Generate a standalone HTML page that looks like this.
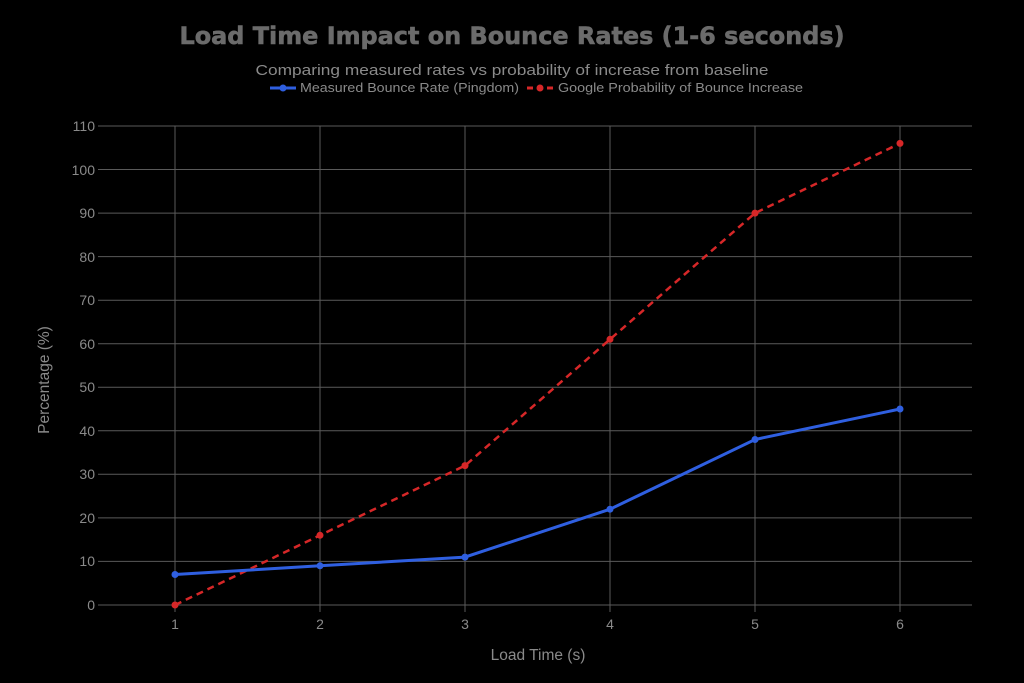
<!DOCTYPE html>
<html><head><meta charset="utf-8"><style>
html,body{margin:0;padding:0;background:#000;}
svg{display:block;font-family:"Liberation Sans","DejaVu Sans",sans-serif;}
</style></head><body>
<svg width="1024" height="683" viewBox="0 0 1024 683" xmlns="http://www.w3.org/2000/svg">
<rect width="1024" height="683" fill="#000"/>
<text x="512" y="44" text-anchor="middle" font-family="'DejaVu Sans',sans-serif" font-weight="bold" font-size="24" fill="#6b6b6b" stroke="#6b6b6b" stroke-width="0.6" textLength="665" lengthAdjust="spacingAndGlyphs">Load Time Impact on Bounce Rates (1-6 seconds)</text>
<text x="512" y="75" text-anchor="middle" font-size="15" fill="#8a8a8a" textLength="513" lengthAdjust="spacingAndGlyphs">Comparing measured rates vs probability of increase from baseline</text>
<g font-size="13" fill="#8a8a8a">
<line x1="270" y1="88" x2="296" y2="88" stroke="#2f5fe0" stroke-width="3"/><circle cx="283" cy="88" r="3.5" fill="#2f5fe0"/>
<text x="300" y="92" textLength="219" lengthAdjust="spacingAndGlyphs">Measured Bounce Rate (Pingdom)</text>
<line x1="527" y1="88" x2="553" y2="88" stroke="#d62728" stroke-width="3" stroke-dasharray="6,4"/><circle cx="540" cy="88" r="3.5" fill="#d62728"/>
<text x="558" y="92" textLength="245" lengthAdjust="spacingAndGlyphs">Google Probability of Bounce Increase</text>
</g>
<g stroke="#5a5a5a" stroke-width="1">
<line x1="98" y1="605" x2="972" y2="605"/><line x1="98" y1="561.4" x2="972" y2="561.4"/><line x1="98" y1="517.9" x2="972" y2="517.9"/><line x1="98" y1="474.3" x2="972" y2="474.3"/><line x1="98" y1="430.8" x2="972" y2="430.8"/><line x1="98" y1="387.3" x2="972" y2="387.3"/><line x1="98" y1="343.7" x2="972" y2="343.7"/><line x1="98" y1="300.2" x2="972" y2="300.2"/><line x1="98" y1="256.6" x2="972" y2="256.6"/><line x1="98" y1="213.1" x2="972" y2="213.1"/><line x1="98" y1="169.5" x2="972" y2="169.5"/><line x1="98" y1="126" x2="972" y2="126"/>
<line x1="175" y1="126" x2="175" y2="612"/><line x1="320" y1="126" x2="320" y2="612"/><line x1="465" y1="126" x2="465" y2="612"/><line x1="610" y1="126" x2="610" y2="612"/><line x1="755" y1="126" x2="755" y2="612"/><line x1="900" y1="126" x2="900" y2="612"/>
<line x1="98" y1="605" x2="104" y2="605"/>
</g>
<g font-size="14" fill="#8a8a8a" text-anchor="end">
<text x="95" y="610">0</text><text x="95" y="566">10</text><text x="95" y="523">20</text><text x="95" y="479">30</text><text x="95" y="436">40</text><text x="95" y="392">50</text><text x="95" y="349">60</text><text x="95" y="305">70</text><text x="95" y="262">80</text><text x="95" y="218">90</text><text x="95" y="175">100</text><text x="95" y="131">110</text>
</g>
<g font-size="14" fill="#8a8a8a" text-anchor="middle">
<text x="175" y="629">1</text><text x="320" y="629">2</text><text x="465" y="629">3</text><text x="610" y="629">4</text><text x="755" y="629">5</text><text x="900" y="629">6</text>
<text x="538" y="660" font-size="15.5">Load Time (s)</text>
</g>
<text transform="translate(49,380) rotate(-90)" text-anchor="middle" font-size="15.5" fill="#8a8a8a">Percentage (%)</text>
<polyline points="175,605 320,535.3 465,465.6 610,339.3 755,213.1 900,143.4" fill="none" stroke="#d62728" stroke-width="2.5" stroke-dasharray="7,5"/>
<g fill="#d62728"><circle cx="175" cy="605" r="3.5"/><circle cx="320" cy="535.3" r="3.5"/><circle cx="465" cy="465.6" r="3.5"/><circle cx="610" cy="339.3" r="3.5"/><circle cx="755" cy="213.1" r="3.5"/><circle cx="900" cy="143.4" r="3.5"/></g>
<polyline points="175,574.5 320,565.8 465,557.1 610,509.2 755,439.5 900,409" fill="none" stroke="#2f5fe0" stroke-width="3"/>
<g fill="#2f5fe0"><circle cx="175" cy="574.5" r="3.5"/><circle cx="320" cy="565.8" r="3.5"/><circle cx="465" cy="557.1" r="3.5"/><circle cx="610" cy="509.2" r="3.5"/><circle cx="755" cy="439.5" r="3.5"/><circle cx="900" cy="409" r="3.5"/></g>
</svg>
</body></html>
